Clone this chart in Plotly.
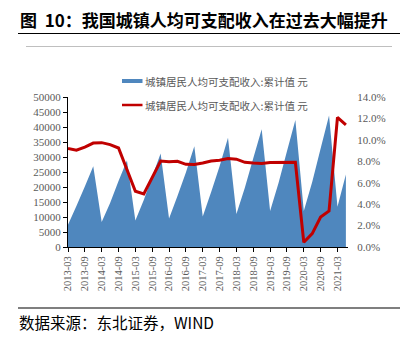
import plotly.graph_objects as go

# ---- data ----
quarters = [
    "2013-03", "2013-06", "2013-09", "2013-12",
    "2014-03", "2014-06", "2014-09", "2014-12",
    "2015-03", "2015-06", "2015-09", "2015-12",
    "2016-03", "2016-06", "2016-09", "2016-12",
    "2017-03", "2017-06", "2017-09", "2017-12",
    "2018-03", "2018-06", "2018-09", "2018-12",
    "2019-03", "2019-06", "2019-09", "2019-12",
    "2020-03", "2020-06", "2020-09", "2020-12",
    "2021-03", "2021-06",
]
income_cum = [
    7400, 13650, 20170, 26950,
    8300, 14670, 22000, 28840,
    8800, 15700, 23510, 31190,
    9500, 16960, 24860, 33620,
    10200, 18320, 26900, 36400,
    11000, 19770, 29600, 39250,
    12000, 21340, 31940, 42360,
    12000, 21660, 32820, 43830,
    13400, 24130,
]
growth_pct = [
    9.19, 9.03, 9.33, 9.70,
    9.74, 9.56, 9.24, 7.20,
    5.20, 4.95, 6.50, 8.03,
    7.96, 8.00, 7.72, 7.70,
    7.84, 8.03, 8.10, 8.25,
    8.20, 7.90, 7.84, 7.80,
    7.88, 7.90, 7.90, 7.90,
    0.44, 1.25, 2.80, 3.36,
    12.10, 11.40,
]
growth = [g / 100 for g in growth_pct]
tick_labels = quarters[::2]
series_name = "城镇居民人均可支配收入:累计值 元"
title_text = "图  10：我国城镇人均可支配收入在过去大幅提升"
source_text = "数据来源：东北证券，WIND"

# ---- layout geometry ----
W, H = 411, 337
L, R, T, B = 68, 63, 97, 90
PW, PH = W - L - R, H - T - B


def px(x):
    return (x - L) / PW


def py(y):
    return (H - B - y) / PH


BLUE = "#4F87BE"
RED = "#C00000"
GRAY = "#595959"
SERIF = "Liberation Serif, Times New Roman, Noto Serif CJK SC, Noto Sans CJK SC, serif"
CJK = "Noto Sans CJK SC, sans-serif"

fig = go.Figure()
fig.add_trace(go.Scatter(
    x=quarters, y=income_cum, mode="none", fill="tozeroy",
    fillcolor=BLUE, name=series_name, showlegend=False, yaxis="y",
))
fig.add_trace(go.Scatter(
    x=quarters, y=growth, mode="lines", line=dict(color=RED, width=3),
    name=series_name, showlegend=False, yaxis="y2",
))

shapes = [
    # title underline
    dict(type="line", xref="paper", yref="paper", x0=px(18), x1=px(400),
         y0=py(33.5), y1=py(33.5), line=dict(color="#000000", width=1.2)),
    # light separator
    dict(type="line", xref="paper", yref="paper", x0=px(26), x1=px(392),
         y0=py(46.5), y1=py(46.5), line=dict(color="#BFBFBF", width=1)),
    # bottom line
    dict(type="line", xref="paper", yref="paper", x0=px(18), x1=px(400),
         y0=py(308), y1=py(308), line=dict(color="#000000", width=1.2)),
    # legend symbols
    dict(type="rect", xref="paper", yref="paper", x0=px(122), x1=px(142.5),
         y0=py(83), y1=py(79), fillcolor=BLUE, line=dict(width=0)),
    dict(type="line", xref="paper", yref="paper", x0=px(122), x1=px(142.5),
         y0=py(105), y1=py(105), line=dict(color=RED, width=2.5)),
]

annotations = [
    dict(text="<b>" + title_text + "</b>", xref="paper", yref="paper",
         x=px(18), y=py(20), xanchor="left", yanchor="middle", showarrow=False,
         font=dict(family=CJK, size=17, color="#000000")),
    dict(text=source_text, xref="paper", yref="paper",
         x=px(17), y=py(322), xanchor="left", yanchor="middle", showarrow=False,
         font=dict(family=CJK, size=15.5, color="#000000")),
    dict(text=series_name, xref="paper", yref="paper",
         x=px(143), y=py(81), xanchor="left", yanchor="middle", showarrow=False,
         font=dict(family=CJK, size=10.5, color=GRAY)),
    dict(text=series_name, xref="paper", yref="paper",
         x=px(143), y=py(105), xanchor="left", yanchor="middle", showarrow=False,
         font=dict(family=CJK, size=10.5, color=GRAY)),
]

fig.update_layout(
    width=W, height=H,
    margin=dict(l=L, r=R, t=T, b=B, pad=0),
    paper_bgcolor="white", plot_bgcolor="white",
    showlegend=False,
    shapes=shapes, annotations=annotations,
    xaxis=dict(
        type="category", categoryorder="array", categoryarray=quarters,
        range=[0, 33.25], tickvals=tick_labels, ticktext=tick_labels,
        tickangle=-90, ticks="outside", ticklen=4, tickcolor="#000000",
        showline=True, linecolor="#000000", linewidth=1, showgrid=False,
        zeroline=False, tickfont=dict(family=SERIF, size=10.5, color=GRAY),
    ),
    yaxis=dict(
        range=[0, 50000], dtick=5000, tickformat="d",
        ticks="outside", ticklen=4, tickcolor="#000000",
        showline=True, linecolor="#000000", linewidth=1, showgrid=False,
        zeroline=False, tickfont=dict(family=SERIF, size=11, color=GRAY),
    ),
    yaxis2=dict(
        overlaying="y", side="right", range=[0, 0.14], dtick=0.02,
        tickformat=".1%", ticks="outside", ticklen=6,
        tickcolor="rgba(0,0,0,0)", showline=False, showgrid=False,
        zeroline=False, tickfont=dict(family=SERIF, size=11, color=GRAY),
    ),
)

fig.write_html("out.html")
